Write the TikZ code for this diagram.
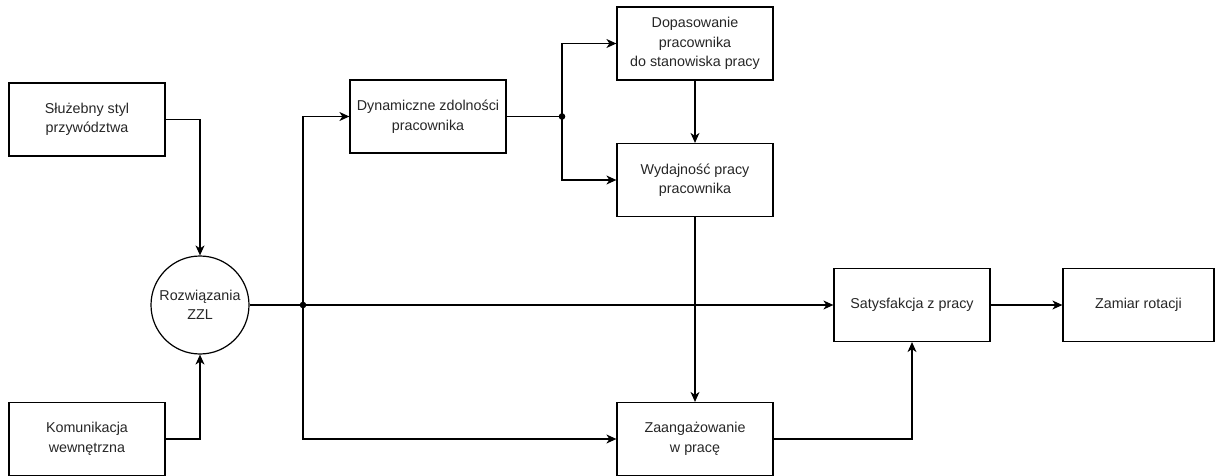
\documentclass[tikz,border=0pt]{standalone}
\usepackage{fontspec}
\setmainfont{Liberation Sans}
\usetikzlibrary{arrows.meta}
\begin{document}
\begin{tikzpicture}[x=1pt,y=-1pt,
  box/.style={draw, line width=1.2pt, minimum width=156pt, minimum height=73pt,
    align=center, inner sep=0pt, font=\fontsize{14.3}{19.5}\selectfont, text=black!85},
  roundbox/.style={draw, circle, line width=1.2pt, minimum size=98pt,
    align=center, inner sep=0pt, font=\fontsize{14.3}{19.5}\selectfont, text=black!85},
  link/.style={line width=1.2pt},
  arr/.style={link, -{Stealth[length=10pt,width=9pt,inset=3pt]}},
  dot/.style={fill=black}]
\useasboundingbox (0,0) rectangle (1216,476);

% left inputs and the central HR node
\node[box] (slu) at (87,119.5) {Służebny styl\\przywództwa};
\node[box] (kom) at (87,439) {Komunikacja\\wewnętrzna};
\node[roundbox] (rzl) at (200,305) {Rozwiązania\\ZZL};

% middle column
\node[box] (dyn) at (428,116.5) {Dynamiczne zdolności\\pracownika};
\node[box] (dop) at (695,43.5) {Dopasowanie\\pracownika\\do stanowiska pracy};
\node[box] (wyd) at (695,180) {Wydajność pracy\\pracownika};
\node[box] (zaa) at (695,439) {Zaangażowanie\\w pracę};

% outcomes
\node[box] (sat) at (912,305) {Satysfakcja z pracy};
\node[box, minimum width=151pt] (zam) at (1138.5,305) {Zamiar rotacji};

% branching points
\coordinate (j1) at (303,305);
\coordinate (j2) at (562,116.5);

\draw[arr] (slu.east) -| (rzl.north);
\draw[arr] (kom.east) -| (rzl.south);

\draw[link] (rzl.east) -- (j1);
\draw[arr] (j1) |- (dyn.west);
\draw[arr] (j1) |- (zaa.west);
\draw[arr] (j1) -- (sat.west);

\draw[link] (dyn.east) -- (j2);
\draw[arr] (j2) |- (dop.west);
\draw[arr] (j2) |- (wyd.west);

\draw[arr] (dop.south) -- (wyd.north);
\draw[arr] (wyd.south) -- (zaa.north);
\draw[arr] (zaa.east) -| (sat.south);
\draw[arr] (sat.east) -- (zam.west);

\fill[dot] (j1) circle (3.3pt);
\fill[dot] (j2) circle (3.3pt);
\end{tikzpicture}
\end{document}
